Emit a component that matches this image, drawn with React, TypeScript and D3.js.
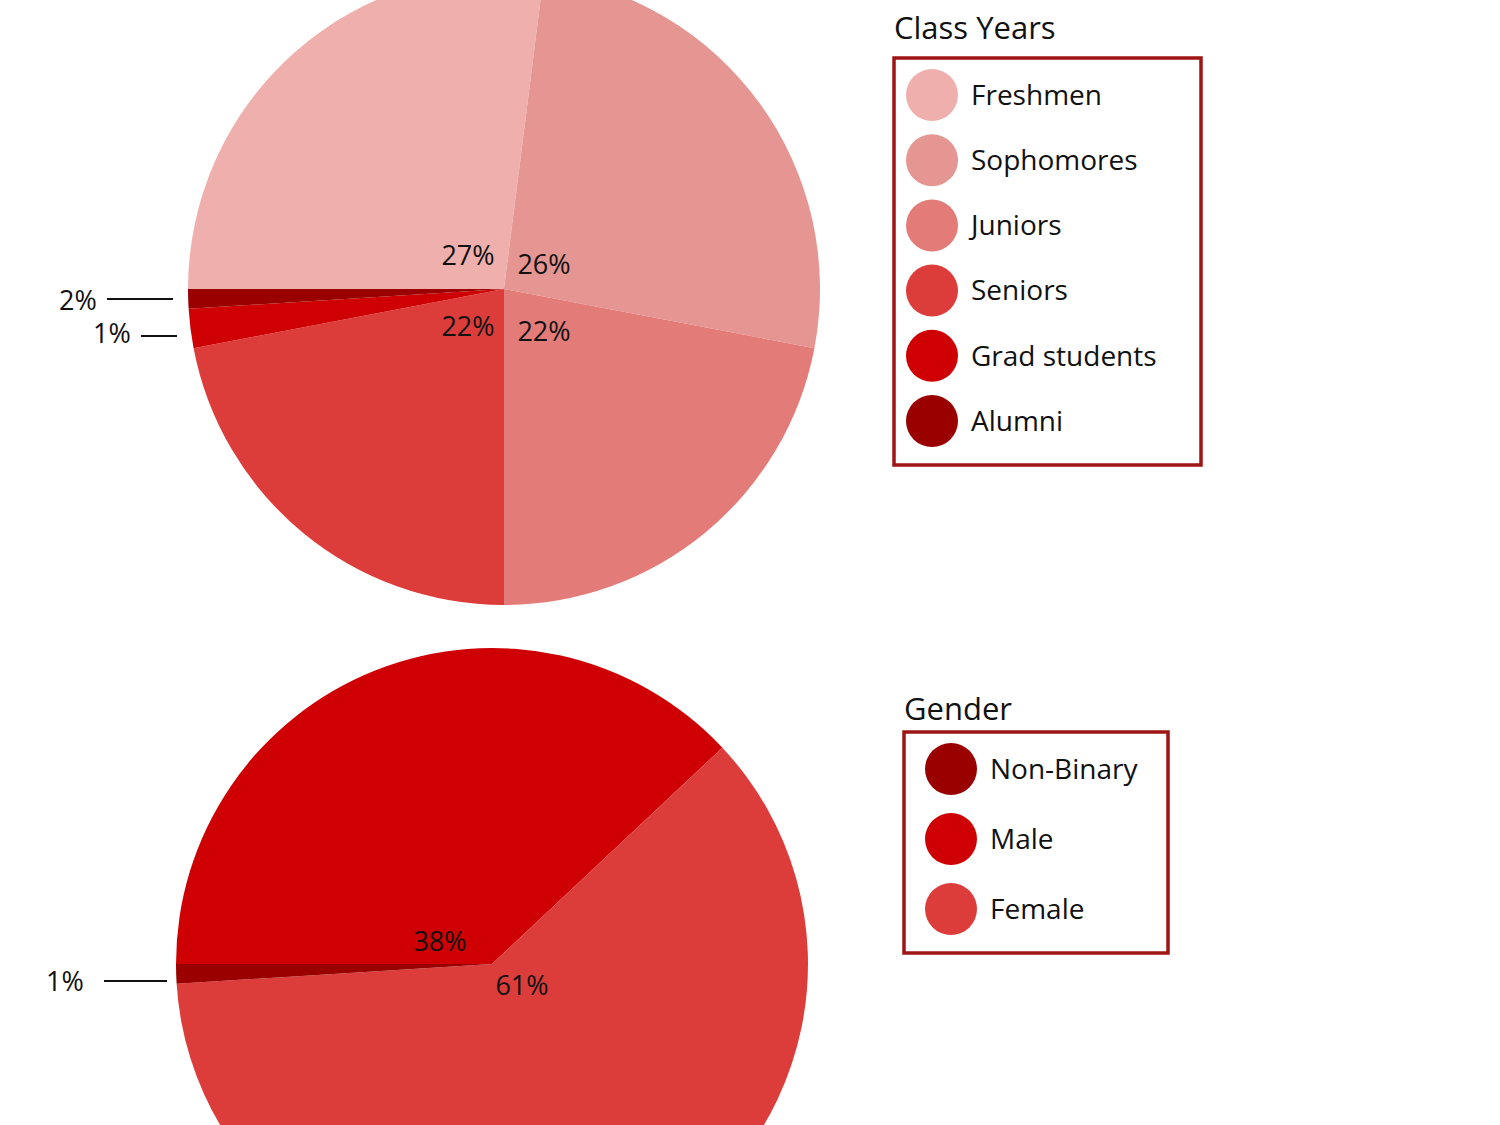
import * as d3 from 'd3';

// Class years (percent of respondents)
const yearLabels = ['Freshmen', 'Sophomores', 'Juniors', 'Seniors', 'Grad students', 'Alumni'];
const yearValues = [27, 26, 22, 22, 2, 1];
const yearColors = ['#efb0ad', '#e59693', '#e37c79', '#dc3d3b', '#cf0003', '#9a0000'];

// Gender (percent of respondents)
const genderLabels = ['Male', 'Female', 'Non-Binary'];
const genderValues = [38, 61, 1];
const genderColors = ['#cf0003', '#dc3d3b', '#9a0000'];
const genderLegendOrder = ['Non-Binary', 'Male', 'Female'];

const FONT = '"Open Sans", "Noto Sans", sans-serif';
const W = 1500;
const H = 1125;
const R = 316;

interface Slice {
  label: string;
  value: number;
  color: string;
}

const toSlices = (labels: string[], values: number[], colors: string[]): Slice[] =>
  labels.map((label, i) => ({ label, value: values[i], color: colors[i] }));

// both pies start at 9 o'clock and run clockwise
const pie = d3
  .pie<Slice>()
  .sort(null)
  .value((d) => d.value)
  .startAngle(-Math.PI / 2)
  .endAngle((3 * Math.PI) / 2);

const arc = d3.arc<d3.PieArcDatum<Slice>>().innerRadius(0).outerRadius(R);

// percentage labels are hand placed around the centre, as in the original
const labelPos: Record<string, [number, number]> = {
  Freshmen: [-36, -33],
  Sophomores: [40, -24],
  Juniors: [40, 43],
  Seniors: [-36, 38],
  Male: [-52, -22],
  Female: [30, 22]
};

const Legend = (props: {
  title: string;
  items: Slice[];
  x: number;
  y: number;
  width: number;
  rowGap: number;
  circleX: number;
  titleY: number;
}) => {
  const { title, items, x, y, width, rowGap, circleX, titleY } = props;
  const rows = d3
    .scalePoint<string>()
    .domain(items.map((d) => d.label))
    .range([37, 37 + rowGap * (items.length - 1)]);
  const height = 37 + rowGap * (items.length - 1) + 44;
  return (
    <g transform={`translate(${x},${y})`}>
      <text x={0} y={titleY} fontSize={31} fontFamily={FONT} fill="#111">
        {title}
      </text>
      <rect x={0} y={0} width={width} height={height} fill="none" stroke="#9e1515" strokeWidth={3.5} />
      {items.map((d) => (
        <g key={d.label} transform={`translate(0,${rows(d.label)})`}>
          <circle cx={circleX} cy={0} r={26} fill={d.color} />
          <text x={circleX + 39} y={0} dy="0.35em" fontSize={28} fontFamily={FONT} fill="#111">
            {d.label}
          </text>
        </g>
      ))}
    </g>
  );
};

const PctLabels = ({ arcs }: { arcs: d3.PieArcDatum<Slice>[] }) => (
  <>
    {arcs
      .filter((d) => labelPos[d.data.label])
      .map((d) => {
        const [ox, oy] = labelPos[d.data.label];
        return (
          <text
            key={d.data.label}
            x={ox}
            y={oy}
            textAnchor="middle"
            dy="0.35em"
            fontSize={27}
            fontFamily={FONT}
            fill="#111"
          >
            {d.data.value}%
          </text>
        );
      })}
  </>
);

export default function App() {
  const years = pie(toSlices(yearLabels, yearValues, yearColors));
  const genders = pie(toSlices(genderLabels, genderValues, genderColors));
  const genderByName = new Map(toSlices(genderLabels, genderValues, genderColors).map((d) => [d.label, d]));

  const small = { fontSize: 27, fontFamily: FONT, fill: '#111' };

  return (
    <svg
      width={W}
      height={H}
      viewBox={`0 0 ${W} ${H}`}
      style={{ position: 'absolute', top: 0, left: 0, background: '#fff' }}
    >
      {/* class years pie */}
      <g transform="translate(504,289)">
        {years.map((d) => (
          <path key={d.data.label} d={arc(d) ?? ''} fill={d.data.color} />
        ))}
        <PctLabels arcs={years} />
        <text x={-445} y={21} {...small}>
          2%
        </text>
        <line x1={-397} x2={-331} y1={10} y2={10} stroke="#111" strokeWidth={2} />
        <text x={-411} y={54} {...small}>
          1%
        </text>
        <line x1={-363} x2={-327} y1={47} y2={47} stroke="#111" strokeWidth={2} />
      </g>

      {/* gender pie */}
      <g transform="translate(492,964)">
        {genders.map((d) => (
          <path key={d.data.label} d={arc(d) ?? ''} fill={d.data.color} />
        ))}
        <PctLabels arcs={genders} />
        <text x={-446} y={27} {...small}>
          1%
        </text>
        <line x1={-388} x2={-325} y1={17} y2={17} stroke="#111" strokeWidth={2} />
      </g>

      <Legend
        title="Class Years"
        items={toSlices(yearLabels, yearValues, yearColors)}
        x={894}
        y={58}
        width={307}
        rowGap={65.2}
        circleX={38}
        titleY={-19}
      />
      <Legend
        title="Gender"
        items={genderLegendOrder.map((n) => genderByName.get(n) as Slice)}
        x={904}
        y={732}
        width={264}
        rowGap={70}
        circleX={47}
        titleY={-12}
      />
    </svg>
  );
}
